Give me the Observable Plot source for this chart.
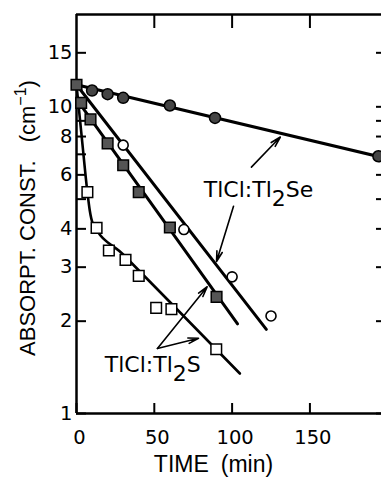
<!DOCTYPE html>
<html><head><meta charset="utf-8">
<script src="https://cdn.jsdelivr.net/npm/d3@7"></script>
<script src="https://cdn.jsdelivr.net/npm/@observablehq/plot@0.6"></script>
<style>
html,body{margin:0;padding:0;background:#fff;overflow:hidden}
</style></head><body><div id="chart"></div>
<script>
// ---- data ----
// TlCl:Tl2Se, slow decay (hatched/filled circles)
const seSlowT = [10, 20, 30, 60, 89, 194];
const seSlowV = [11.3, 11.0, 10.7, 10.1, 9.2, 6.9];
const seSlowLineT = [0, 196];
const seSlowLineV = [11.8, 6.85];
// TlCl:Tl2Se, fast decay (open circles)
const seFastT = [30, 69, 100, 125];
const seFastV = [7.5, 3.98, 2.79, 2.08];
const seFastLineT = [0, 122];
const seFastLineV = [11.8, 1.88];
// TlCl:Tl2S (hatched squares)
const sMidT = [0, 3, 9, 20, 30, 40, 60, 90];
const sMidV = [11.8, 10.3, 9.1, 7.6, 6.45, 5.27, 4.04, 2.4];
const sMidLineT = [0, 103.5];
const sMidLineV = [10.6, 1.96];
// TlCl:Tl2S (open squares)
const sOpenT = [7, 12.9, 20.8, 31.5, 40, 51.2, 61, 89.8];
const sOpenV = [5.27, 4.03, 3.4, 3.17, 2.81, 2.21, 2.19, 1.62];
const sOpenCurveT = [0, 3.5, 7, 8.5, 10.4, 30, 60, 105];
const sOpenCurveV = [11.8, 7.85, 5.27, 4.6, 4.18, 3.3, 2.31, 1.35];
// annotations
const annLabels = ["TlCl:Tl2Se", "TlCl:Tl2S"];
const annT = [117, 49];
const annV = [5.34, 1.44];
const arrowT1 = [112.4, 100.9, 52, 52];
const arrowV1 = [6.36, 4.74, 1.63, 1.63];
const arrowT2 = [131, 90, 84, 78.4];
const arrowV2 = [7.97, 3.13, 2.59, 1.76];
// axes
const xTicks = [0, 50, 100, 150];
const yTicks = [1, 2, 3, 4, 5, 6, 7, 8, 9, 10, 15];
const yLabeled = [1, 2, 3, 4, 6, 8, 10, 15];
const xTitle = "TIME (min)";
const yTitle = "ABSORPT. CONST. (cm-1)";

const zip = (T, V) => T.map((t, i) => ({t, v: V[i]}));
const seSlow = zip(seSlowT, seSlowV), seSlowLine = zip(seSlowLineT, seSlowLineV);
const seFast = zip(seFastT, seFastV), seFastLine = zip(seFastLineT, seFastLineV);
const sMid = zip(sMidT, sMidV), sMidLine = zip(sMidLineT, sMidLineV);
const sOpen = zip(sOpenT, sOpenV), sOpenCurve = zip(sOpenCurveT, sOpenCurveV);
const ann = annLabels.map((label, i) => ({label, t: annT[i], v: annV[i]}));
const arrows = arrowT1.map((t, i) => ({t1: t, v1: arrowV1[i], t2: arrowT2[i], v2: arrowV2[i]}));

const chart = Plot.plot({
  width: 381, height: 479,
  marginLeft: 76, marginRight: 0, marginTop: 14, marginBottom: 66,
  style: {fontFamily: "DejaVu Sans", fontSize: "19.5px", background: "white", color: "black"},
  x: {domain: [0, 196], axis: null},
  y: {type: "log", domain: [1, 20], axis: null},
  marks: [
    Plot.axisX(xTicks, {anchor: "bottom", tickSize: -10, strokeWidth: 2, label: null, tickFormat: () => ""}),
    Plot.axisX(xTicks, {anchor: "bottom", tickSize: 0, tickPadding: 17, dx: 3, label: null, fontSize: 19.5}),
    Plot.axisX(xTicks.slice(1), {anchor: "top", tickSize: -13, strokeWidth: 2, label: null, tickFormat: () => ""}),
    Plot.axisY(yTicks, {anchor: "left", tickSize: -10, tickPadding: 14, strokeWidth: 2, label: null, fontSize: 19.5,
      tickFormat: d => yLabeled.includes(d) ? String(d) : ""}),
    Plot.axisY(yTicks, {anchor: "right", tickSize: -6, strokeWidth: 2, label: null, tickFormat: () => ""}),
    Plot.ruleX([0], {strokeWidth: 2.5}),
    Plot.ruleY([1, 20], {strokeWidth: 2.5}),
    Plot.line(seSlowLine, {x: "t", y: "v", strokeWidth: 3.2}),
    Plot.line(seFastLine, {x: "t", y: "v", strokeWidth: 3}),
    Plot.line(sMidLine, {x: "t", y: "v", strokeWidth: 3}),
    Plot.line(sOpenCurve, {x: "t", y: "v", curve: "monotone-x", strokeWidth: 2.6}),
    Plot.dot(seSlow, {x: "t", y: "v", r: 5.5, fill: "#444", stroke: "black", strokeWidth: 1.5}),
    Plot.dot(seFast, {x: "t", y: "v", r: 5, fill: "white", stroke: "black", strokeWidth: 1.6}),
    Plot.dot(sMid, {x: "t", y: "v", symbol: "square", r: 6, fill: "#555", stroke: "black", strokeWidth: 1.5}),
    Plot.dot(sOpen, {x: "t", y: "v", symbol: "square", r: 6, fill: "white", stroke: "black", strokeWidth: 1.5}),
    Plot.arrow(arrows, {x1: "t1", y1: "v1", x2: "t2", y2: "v2", strokeWidth: 1.6, headLength: 10, headAngle: 30}),
    Plot.text(ann, {x: "t", y: "v", text: "label", fontFamily: "DejaVu Sans", fontSize: 22, textAnchor: "middle"}),
    Plot.text([xTitle], {frameAnchor: "bottom", textAnchor: "middle", lineAnchor: "middle", dx: -15.5, dy: 51,
      fontFamily: "Liberation Sans", fontSize: 23}),
    Plot.text([yTitle], {frameAnchor: "left", textAnchor: "middle", lineAnchor: "middle", rotate: -90, dx: -49, dy: 4,
      fontFamily: "Liberation Sans", fontSize: 22})
  ]
});
document.getElementById("chart").appendChild(chart);

// rich text: subscripts / superscripts
function rich(el, parts) {
  el.textContent = "";
  for (const p of parts) {
    const ts = document.createElementNS("http://www.w3.org/2000/svg", "tspan");
    ts.textContent = p.t;
    if (p.dy) ts.setAttribute("dy", p.dy);
    if (p.dx) ts.setAttribute("dx", p.dx);
    if (p.size) ts.setAttribute("font-size", p.size);
    el.appendChild(ts);
  }
}
d3.select(chart).selectAll("text").each(function() {
  const s = this.textContent;
  if (s === "TlCl:Tl2Se") rich(this, [{t: "TlCl:Tl"}, {t: "2", dy: 9}, {t: "Se", dy: -9}]);
  else if (s === "TlCl:Tl2S") rich(this, [{t: "TlCl:Tl"}, {t: "2", dy: 9}, {t: "S", dy: -9}]);
  else if (s === xTitle) rich(this, [{t: "TIME"}, {t: "(min)", dx: 12}]);
  else if (s === yTitle) rich(this, [{t: "ABSORPT. CONST."}, {t: "(cm", dx: 18}, {t: "\u22121", dy: -9, size: 16}, {t: ")", dy: 9}]);
});
</script></body></html>
